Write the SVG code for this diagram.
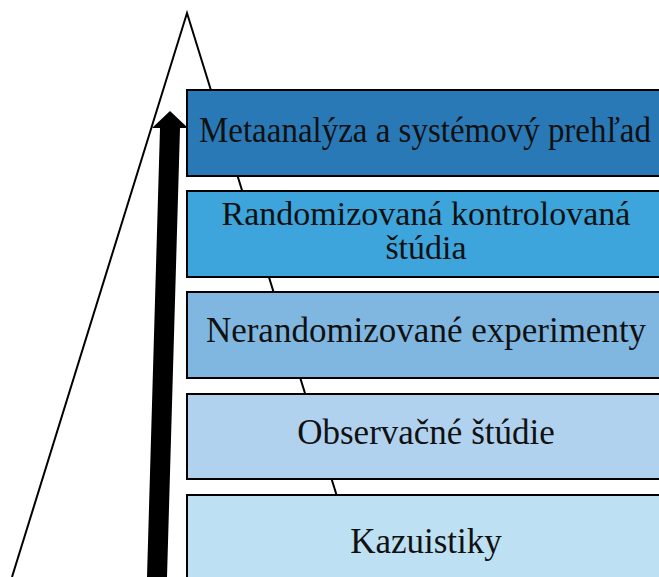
<svg xmlns="http://www.w3.org/2000/svg" width="659" height="577" viewBox="0 0 659 577">
<style>
.box{stroke:#000;stroke-width:2}
.lbl{font-family:"Liberation Serif","Times New Roman",serif;font-size:35px;fill:#111;text-anchor:middle}
.tri{fill:none;stroke:#000;stroke-width:2}
</style>
<rect width="659" height="577" fill="#fff"/>
<g id="pyramid">
<polyline class="tri" points="12,577 187,13 362,577"/>
</g>
<g id="connectors">
<polygon points="147,577 160,128 152,128 170,111 188,128 180,128 167,577" fill="#000"/>
</g>
<g id="node1">
<rect class="box" x="187" y="90" width="480" height="86" fill="#2A79B7"/>
<text class="lbl" x="425" y="142" textLength="452" lengthAdjust="spacingAndGlyphs">Metaanalýza a systémový prehľad</text>
</g>
<g id="node2">
<rect class="box" x="187" y="191" width="480" height="86" fill="#3DA5DB"/>
<text class="lbl" x="426" y="225" style="font-size:34px">Randomizovaná kontrolovaná</text>
<text class="lbl" x="426" y="259" style="font-size:34px">štúdia</text>
</g>
<g id="node3">
<rect class="box" x="187" y="292" width="480" height="86" fill="#80B7E1"/>
<text class="lbl" x="426" y="342">Nerandomizované experimenty</text>
</g>
<g id="node4">
<rect class="box" x="187" y="394" width="480" height="85" fill="#B1D2EE"/>
<text class="lbl" x="426" y="444">Observačné štúdie</text>
</g>
<g id="node5">
<rect class="box" x="187" y="495" width="480" height="100" fill="#BEE0F3"/>
<text class="lbl" x="426" y="553">Kazuistiky</text>
</g>
</svg>
